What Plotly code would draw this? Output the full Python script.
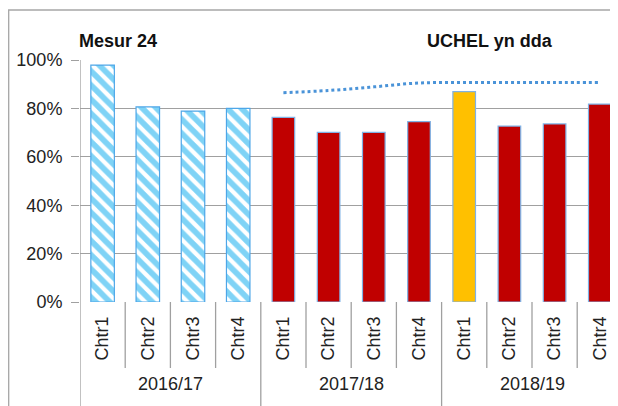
import plotly.graph_objects as go

# data
years = ["2016/17", "2017/18", "2018/19"]
quarters = ["Chtr1", "Chtr2", "Chtr3", "Chtr4"]
vals_1617 = [97.9, 80.6, 78.9, 80.0]
vals_1718 = [76.3, 70.1, 70.1, 74.5]
vals_1819 = [86.9, 72.7, 73.6, 81.8]
target = [86.5, 87.4, 88.9, 90.5, 90.7, 90.7, 90.7, 90.7]  # "UCHEL yn dda" dotted line
yticks = [0, 20, 40, 60, 80, 100]

# the page body adds an 8px margin, so the figure is drawn 8px smaller
OFF = 8
W, H = 618 - OFF, 406 - OFF
L, R, T, B = 80 - OFF, 0, 60 - OFF, 406 - 302
pw, ph = W - L - R, H - T - B
cat_w = 45.2

def px_x(p):
    # p is a screen pixel of the reference
    return (p - OFF - L) / pw

def px_y(p):
    return (H - B - (p - OFF)) / ph

xs = list(range(12))
ticktext = quarters * 3
FONT = "Liberation Sans, Arial"

fig = go.Figure()

fig.add_trace(go.Bar(
    x=xs[0:4], y=vals_1617, width=0.52,
    marker=dict(color="white",
                pattern=dict(shape="\\", fgcolor="#00a8ee", bgcolor="white", size=10, solidity=0.58),
                line=dict(color="#4ea6e8", width=1.2)),
    showlegend=False))
fig.add_trace(go.Bar(
    x=xs[4:8] + xs[9:12], y=vals_1718 + vals_1819[1:], width=0.5,
    marker=dict(color="#c00000", line=dict(color="#7fb2e5", width=1.2)),
    showlegend=False))
fig.add_trace(go.Bar(
    x=[xs[8]], y=[vals_1819[0]], width=0.5,
    marker=dict(color="#ffc000", line=dict(color="#7fb2e5", width=1.2)),
    showlegend=False))
fig.add_trace(go.Scatter(
    x=xs[4:12], y=target, mode="lines",
    line=dict(color="#4a93d8", width=3, dash="dot", shape="spline"),
    showlegend=False))

x_end = -0.5 + pw / cat_w

shapes = []
# category dividers below the axis
for k in range(1, 12):
    g = (k % 4 == 0)
    shapes.append(dict(type="line", xref="x", yref="paper", x0=k - 0.5, x1=k - 0.5,
                       y0=0, y1=-0.6 if g else px_y(368),
                       line=dict(color="#a0a0a0", width=1.3)))
# left axis line running to the bottom
shapes.append(dict(type="line", xref="x", yref="paper", x0=-0.5, x1=-0.5, y0=-0.6, y1=1,
                   line=dict(color="#a0a0a0", width=1.3)))
# outer chart border
shapes.append(dict(type="rect", xref="paper", yref="paper",
                   x0=px_x(8.7), x1=px_x(640), y0=px_y(440), y1=px_y(10),
                   line=dict(color="#a6a6a6", width=1.3), layer="below"))

annotations = []
for i, yr in enumerate(years):
    annotations.append(dict(x=4 * i + 1.5, y=px_y(396), xref="x", yref="paper", text=yr,
                            showarrow=False, font=dict(size=18, color="#222")))
annotations.append(dict(x=px_x(77), y=px_y(29), xref="paper", yref="paper", text="<b>Mesur 24</b>",
                        showarrow=False, xanchor="left", font=dict(size=18, color="#111")))
annotations.append(dict(x=px_x(490), y=px_y(29), xref="paper", yref="paper", text="<b>UCHEL yn dda</b>",
                        showarrow=False, xanchor="center", font=dict(size=18, color="#111")))

fig.update_layout(
    width=W, height=H,
    margin=dict(l=L, r=R, t=T, b=B),
    paper_bgcolor="white", plot_bgcolor="white",
    font=dict(family=FONT, size=18, color="#222"),
    bargap=0.5,
    shapes=shapes, annotations=annotations,
    xaxis=dict(range=[-0.5, x_end], tickmode="array", tickvals=xs, ticktext=ticktext,
               tickangle=-90, showgrid=False, zeroline=False, showline=False, ticks="",
               ticklabelstandoff=10, tickfont=dict(size=18)),
    yaxis=dict(range=[0, 100], tickmode="array", tickvals=yticks,
               ticktext=[f"{v}%" for v in yticks],
               showgrid=True, gridcolor="#a0a0a0", gridwidth=1.3, zeroline=False,
               showline=False, ticks="outside", ticklen=8, tickcolor="#a0a0a0",
               tickwidth=1.3, ticklabelstandoff=5, tickfont=dict(size=18)),
)

fig.write_html("out.html")
